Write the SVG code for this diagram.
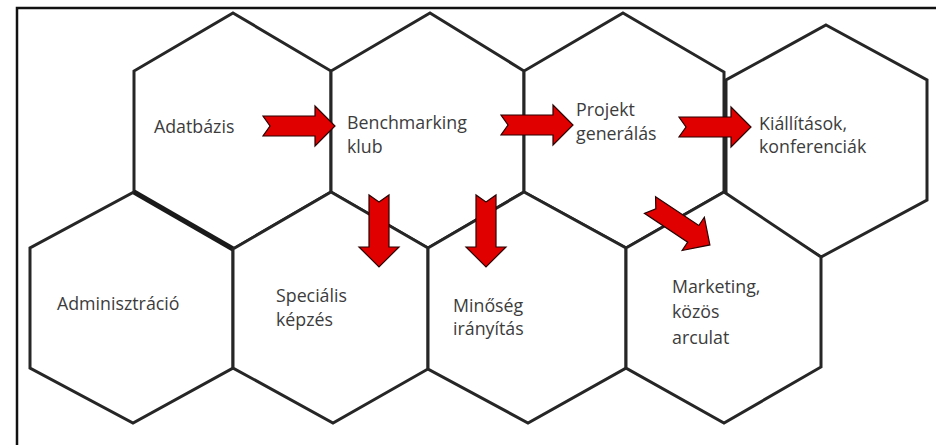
<svg xmlns="http://www.w3.org/2000/svg" width="936" height="445" viewBox="0 0 936 445">
<style>
.hex{fill:#ffffff;stroke:#262626;stroke-width:3;stroke-linejoin:miter}
.lbl{font-family:"Open Sans","Noto Sans","DejaVu Sans",sans-serif;font-size:17.8px;fill:#3c3c3c}
.arr{fill:#e00000;stroke:#2a0000;stroke-width:1.2;stroke-linejoin:miter}
</style>
<defs>
<path id="arrow" d="M0,-10 L52,-10 L52,-20 L72,0 L52,20 L52,10 L0,10 L7,0 Z"/>
</defs>
<rect x="17" y="8" width="940" height="450" fill="#ffffff" stroke="#111111" stroke-width="2.5"/>
<g id="hex-adatbazis">
<polygon class="hex" points="233,13 331,71 331,192 233,249 134,192 134,71"/>
<text class="lbl" x="154" y="133">Adatbázis</text>
</g>
<g id="hex-benchmarking">
<polygon class="hex" points="430,13 524,71 524,192 428,248 331,192 331,71"/>
<text class="lbl" x="347" y="129">Benchmarking</text>
<text class="lbl" x="347" y="153">klub</text>
</g>
<g id="hex-projekt">
<polygon class="hex" points="623,13 724,72 724,192 626,248 524,192 524,71"/>
<text class="lbl" x="576" y="116">Projekt</text>
<text class="lbl" x="576" y="140">generálás</text>
</g>
<g id="hex-kiallitasok">
<polygon class="hex" points="826,25 927,80 927,200 821,257 726,197 726,80"/>
<text class="lbl" x="759" y="130">Kiállítások,</text>
<text class="lbl" x="759" y="153">konferenciák</text>
</g>
<g id="hex-adminisztracio">
<polygon class="hex" points="134,192 233,249 233,368 133,423 30,368 30,248"/>
<line x1="134" y1="192" x2="233" y2="249" stroke="#1a1a1a" stroke-width="5"/>
<text class="lbl" x="57" y="310">Adminisztráció</text>
</g>
<g id="hex-specialis">
<polygon class="hex" points="331,192 428,248 428,369 333,423 233,368 233,249"/>
<text class="lbl" x="276" y="302">Speciális</text>
<text class="lbl" x="276" y="326">képzés</text>
</g>
<g id="hex-minoseg">
<polygon class="hex" points="524,192 626,248 626,368 528,423 428,369 428,248"/>
<text class="lbl" x="453" y="312">Minőség</text>
<text class="lbl" x="453" y="335">irányítás</text>
</g>
<g id="hex-marketing">
<polygon class="hex" points="724,192 821,257 821,367 724,423 626,368 626,248"/>
<text class="lbl" x="672" y="293">Marketing,</text>
<text class="lbl" x="672" y="318">közös</text>
<text class="lbl" x="672" y="344">arculat</text>
</g>
<g id="connectors">
<use href="#arrow" class="arr" transform="translate(263,126)"/>
<use href="#arrow" class="arr" transform="translate(501,125)"/>
<use href="#arrow" class="arr" transform="translate(679,127)"/>
<use href="#arrow" class="arr" transform="translate(379,195) rotate(90)"/>
<use href="#arrow" class="arr" transform="translate(486,195) rotate(90)"/>
<use href="#arrow" class="arr" transform="translate(650,205) rotate(33.7)"/>
</g>
</svg>
